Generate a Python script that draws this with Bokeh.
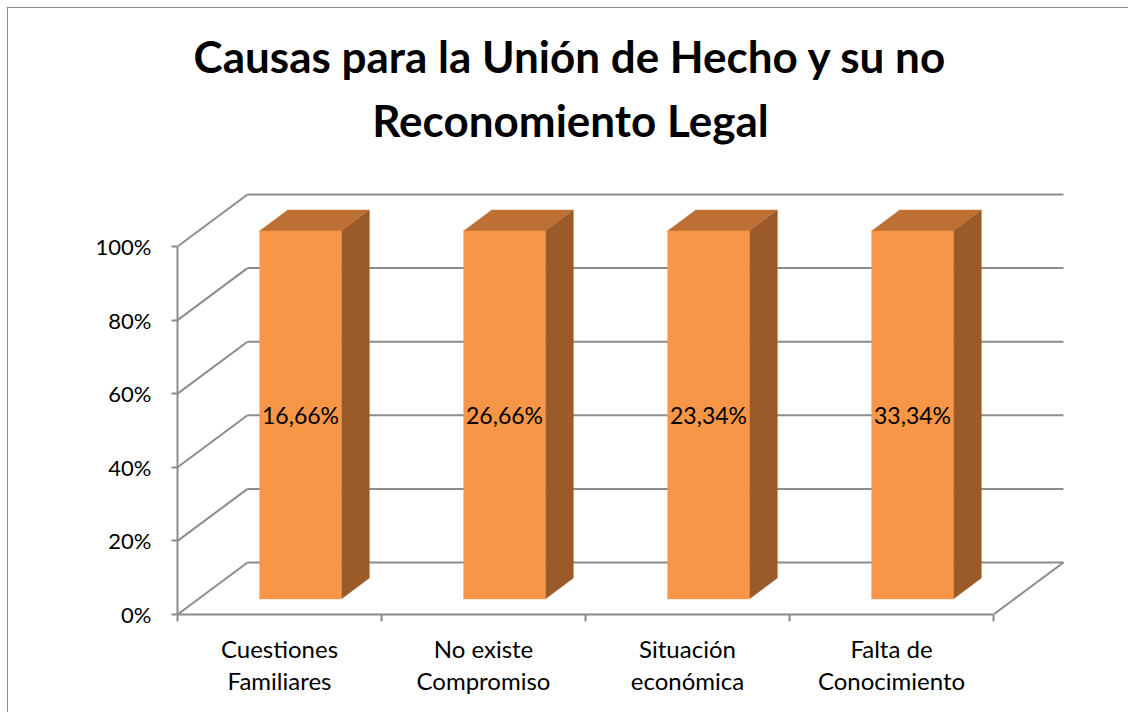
from bokeh.plotting import figure
from bokeh.models import Range1d, LinearAxis, FixedTicker, NumeralTickFormatter
from bokeh.core.properties import value
from bokeh.embed import file_html
from bokeh.resources import INLINE

# ---------------- data ----------------
title_lines = ["Causas para la Unión de Hecho y su no", "Reconomiento Legal"]
categories = ["Cuestiones\nFamiliares", "No existe\nCompromiso",
              "Situación\neconómica", "Falta de\nConocimiento"]
percent_values = [16.66, 26.66, 23.34, 33.34]
y_ticks = [0, 0.2, 0.4, 0.6, 0.8, 1.0]

# 100% stacked column chart with a single series -> every column fills 100%
stack_totals = list(percent_values)
shares = [v / t for v, t in zip(percent_values, stack_totals)]
value_labels = [("%.2f" % v).replace(".", ",") + "%" for v in percent_values]

# ---------------- layout / style ----------------
W, H = 1121, 705
ML, MB = 169, 99
PX_X = 204.0   # px per category on front plane
PX_Y = 368.0   # px per 100% on front plane
DX = 70.0 / PX_X   # depth vector (data units)
DY = 52.0 / PX_Y
F0, F1 = 0.30, 0.70   # bar depth (front/back fraction)
BAR_W = 0.40
GRID = "#8c8c8c"
FONT = "Lato"
C_FRONT, C_TOP, C_SIDE = "#F79646", "#BE7034", "#9B5A29"
FRAME_H = H - MB

p = figure(width=W, height=H,
           x_range=Range1d(0, (W - ML) / PX_X),
           y_range=Range1d(0, FRAME_H / PX_Y),
           x_axis_type=None, y_axis_type=None,
           output_backend="svg", toolbar_location=None,
           min_border_left=ML, min_border_right=0, min_border_top=0,
           min_border_bottom=MB)
p.outline_line_color = None
p.background_fill_color = "white"
p.border_fill_color = "white"
p.styles = {"margin-left": "7px", "margin-top": "7px",
            "border-left": "1px solid #8c8c8c", "border-top": "1px solid #8c8c8c"}

n = len(categories)

# ---------------- walls & floor ----------------
wall_xs, wall_ys = [], []
for t in y_ticks:
    wall_xs.append([DX, n + DX]); wall_ys.append([t + DY, t + DY])   # back wall
    wall_xs.append([0, DX]); wall_ys.append([t, t + DY])             # side wall
wall_xs.append([n, n + DX]); wall_ys.append([0, DY])                 # floor edge
p.multi_line(xs=wall_xs, ys=wall_ys, line_color=GRID, line_width=2)

# ---------------- 3D bars ----------------
front_xs, front_ys, top_xs, top_ys, side_xs, side_ys = [], [], [], [], [], []
lab_x, lab_y = [], []
for i, h in enumerate(shares):
    x0 = i + 0.5 - BAR_W / 2 + F0 * DX
    x1 = x0 + BAR_W
    yb = F0 * DY
    yt = h + F0 * DY
    ddx, ddy = (F1 - F0) * DX, (F1 - F0) * DY
    front_xs.append([x0, x1, x1, x0]); front_ys.append([yb, yb, yt, yt])
    top_xs.append([x0, x1, x1 + ddx, x0 + ddx]); top_ys.append([yt, yt, yt + ddy, yt + ddy])
    side_xs.append([x1, x1 + ddx, x1 + ddx, x1]); side_ys.append([yb, yb + ddy, yt + ddy, yt])
    lab_x.append((x0 + x1) / 2); lab_y.append((yb + yt) / 2)

p.patches(xs=side_xs, ys=side_ys, fill_color=C_SIDE, line_color=C_SIDE, line_width=0.5)
p.patches(xs=top_xs, ys=top_ys, fill_color=C_TOP, line_color=C_TOP, line_width=0.5)
p.patches(xs=front_xs, ys=front_ys, fill_color=C_FRONT, line_color=C_FRONT, line_width=0.5)

p.text(x=lab_x, y=lab_y, text=value_labels, text_font=value(FONT),
       text_font_size="23px", text_color="black",
       text_align="center", text_baseline="middle")

# ---------------- title ----------------
TITLE_X = 393.0 / PX_X
title_y = [(614.0 - 55) / PX_Y, (614.0 - 119) / PX_Y]
p.text(x=[TITLE_X, TITLE_X], y=title_y, text=title_lines, text_font=value(FONT),
       text_font_style="bold", text_font_size="44px", text_color="black",
       text_align="center", text_baseline="middle")

# ---------------- axes ----------------
yax = LinearAxis(ticker=FixedTicker(ticks=y_ticks),
                 formatter=NumeralTickFormatter(format="0%"), bounds=(0, 1))
yax.axis_line_color = GRID
yax.axis_line_width = 2
yax.major_tick_line_color = GRID
yax.major_tick_line_width = 2
yax.major_tick_in = 0
yax.major_tick_out = 6
yax.minor_tick_line_color = None
yax.major_label_text_font = FONT
yax.major_label_text_font_size = "22px"
yax.major_label_text_color = "black"
yax.major_label_standoff = 20
p.add_layout(yax, "left")

xax = LinearAxis(ticker=FixedTicker(ticks=[i + 0.5 for i in range(n)],
                                    minor_ticks=list(range(n + 1))),
                 bounds=(0, n))
xax.major_label_overrides = {i + 0.5: c for i, c in enumerate(categories)}
xax.axis_line_color = GRID
xax.axis_line_width = 2
xax.major_tick_line_color = None
xax.major_tick_out = 0
xax.major_tick_in = 0
xax.minor_tick_line_color = GRID
xax.minor_tick_line_width = 2
xax.minor_tick_in = 0
xax.minor_tick_out = 7
xax.major_label_text_font = FONT
xax.major_label_text_font_size = "24px"
xax.major_label_text_color = "black"
xax.major_label_text_line_height = 1.12
xax.major_label_standoff = 12
p.add_layout(xax, "below")

open("out.html", "w").write(file_html(p, INLINE))
